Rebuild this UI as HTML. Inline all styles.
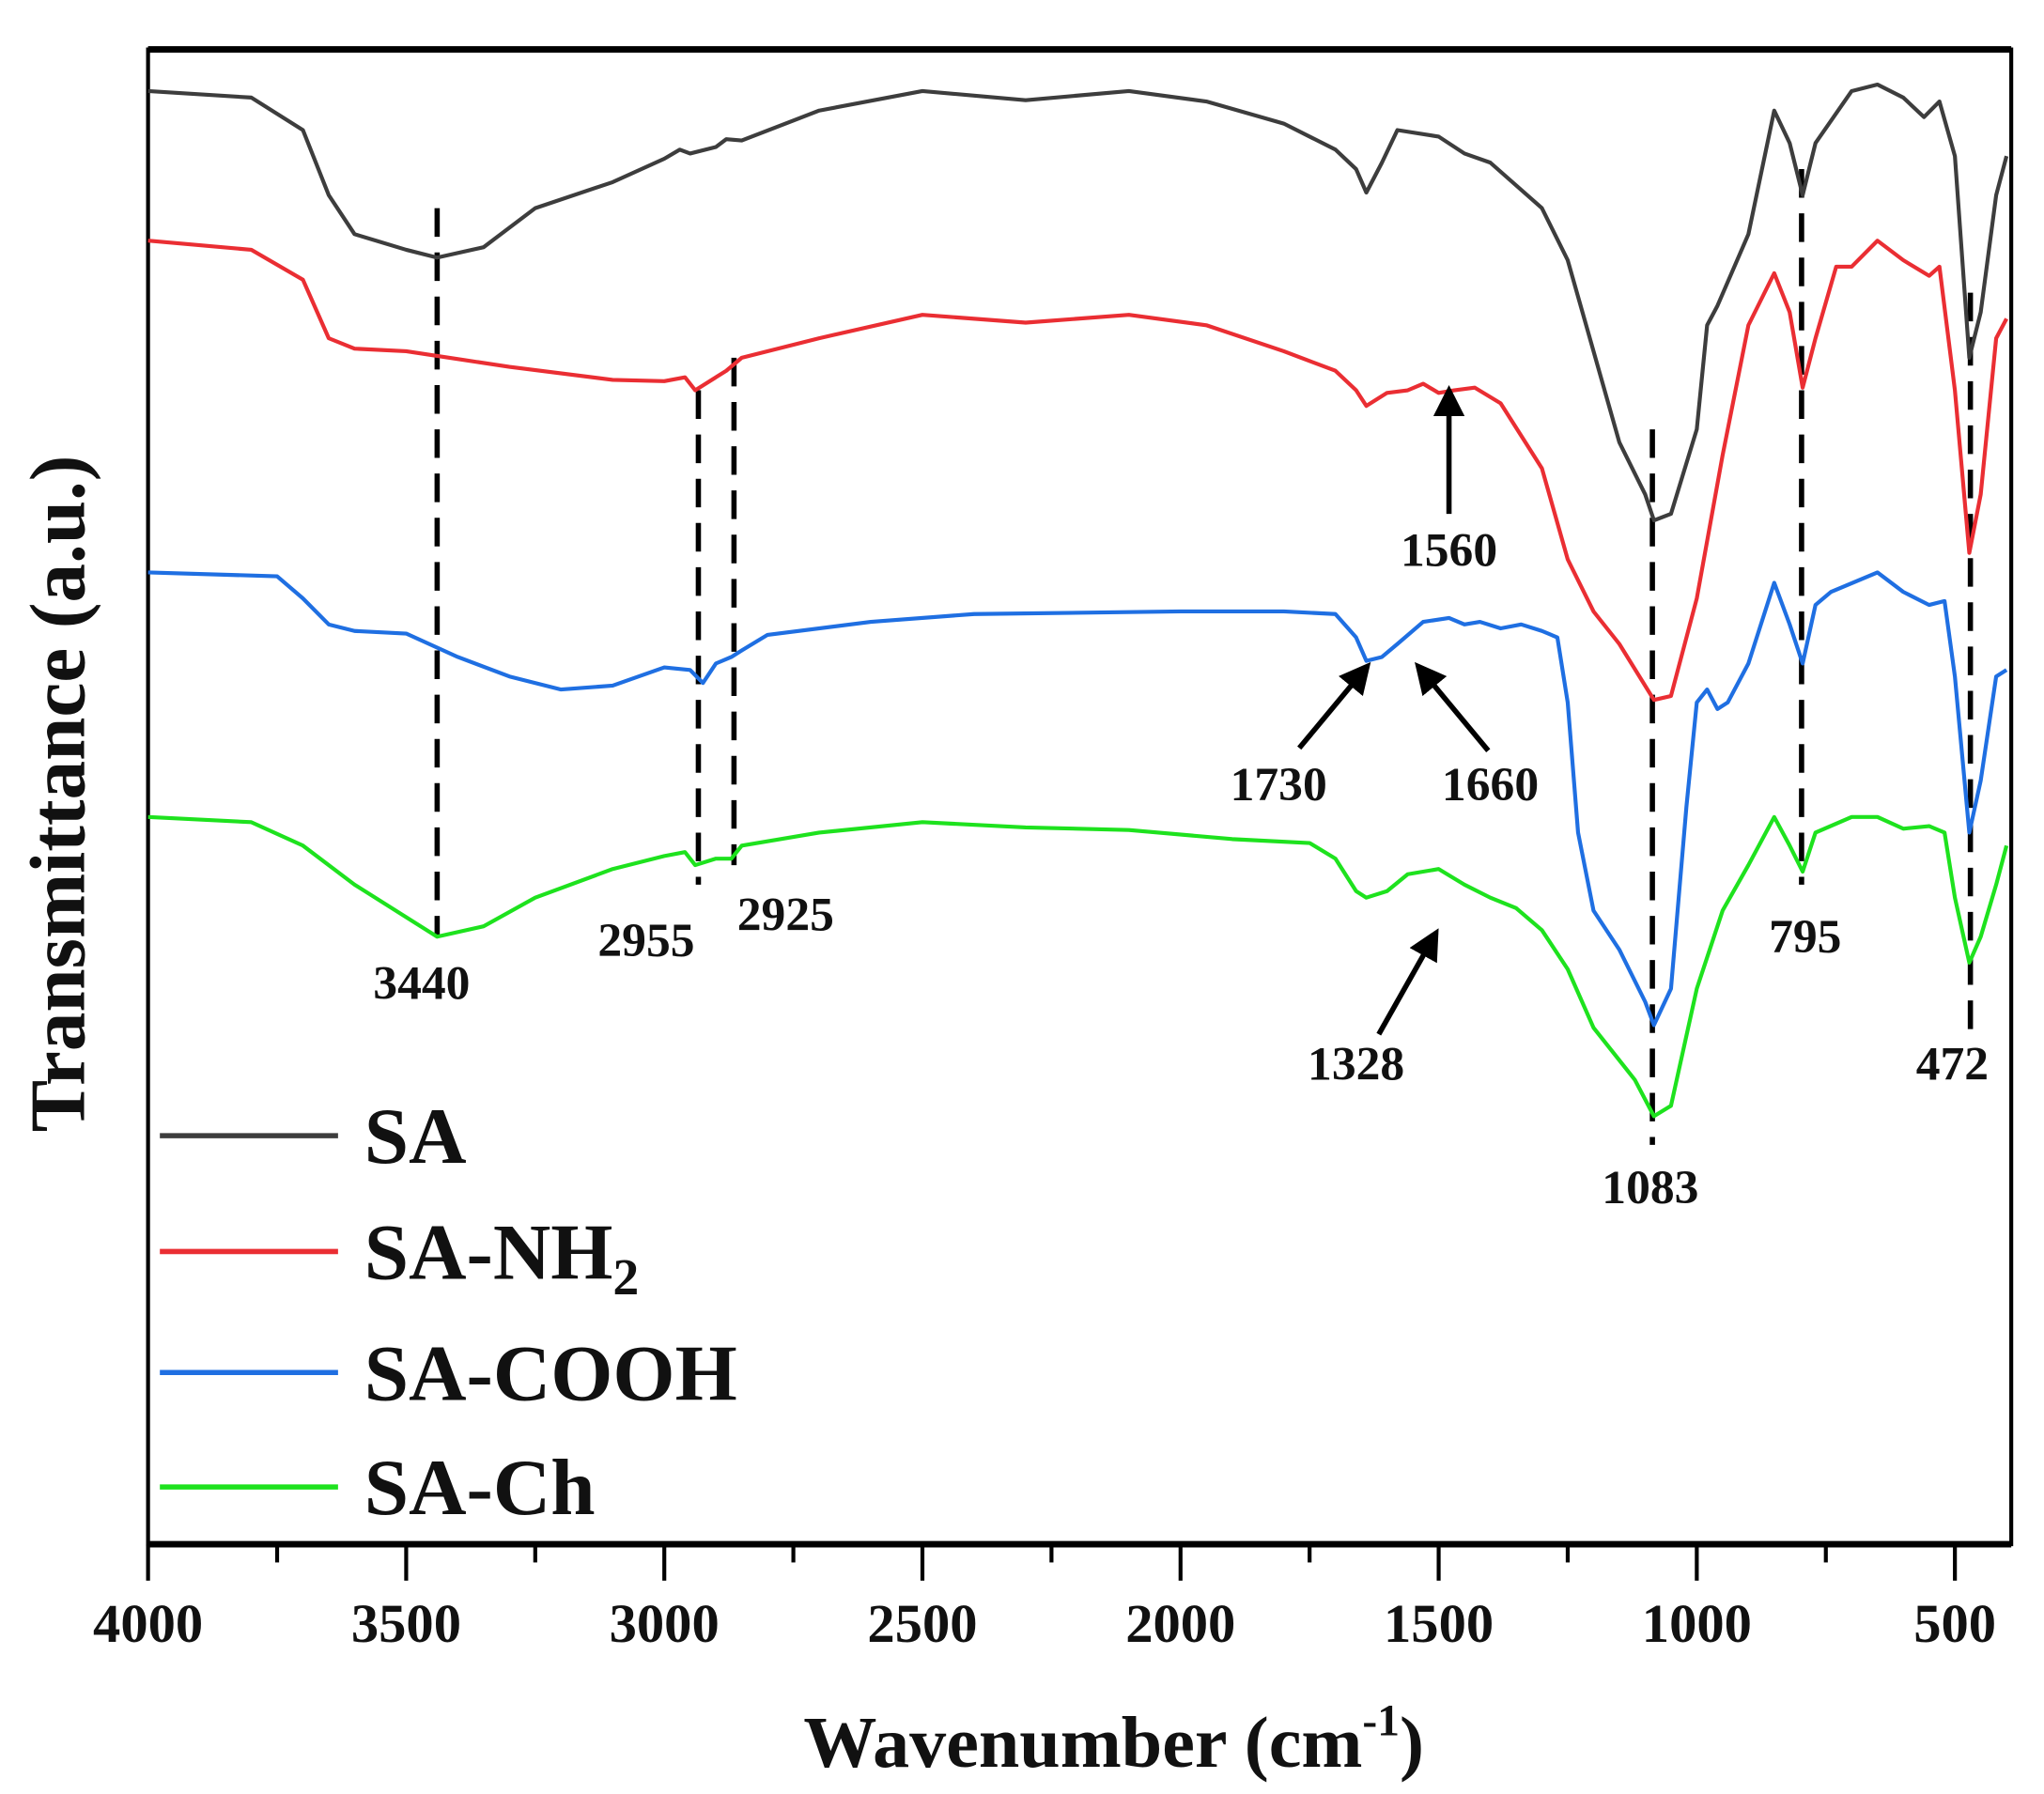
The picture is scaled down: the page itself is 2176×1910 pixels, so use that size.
<!DOCTYPE html>
<html><head><meta charset="utf-8"><style>
html,body{margin:0;padding:0;background:#fff;}
svg{display:block;}
text{font-family:"Liberation Serif",serif;font-weight:bold;fill:#111;}
</style></head><body>
<svg id="chart" width="2176" height="1910" viewBox="0 0 1560 1379" preserveAspectRatio="none" xmlns="http://www.w3.org/2000/svg">
<g id="marks"></g>
</svg>
<script>
// ---- data ----
const wnSA=[4000,3800,3700,3650,3600,3500,3440,3350,3250,3100,3000,2970,2950,2900,2880,2850,2700,2500,2300,2100,1950,1800,1700,1660,1640,1610,1580,1500,1450,1400,1300,1250,1200,1150,1100,1083,1050,1000,980,960,900,850,820,795,770,700,650,600,560,530,500,472,450,420,400];
const tSA=[113,112.5,110,105,102,100.8,100.2,101,104,106,107.8,108.5,108.2,108.7,109.3,109.2,111.5,113,112.3,113,112.2,110.5,108.5,107,105.2,107.5,110,109.5,108.2,107.5,104,100,93,86,82,80,80.5,87,95,96.5,102,111.5,109,105,109,113,113.5,112.5,111,112.2,108,92.5,96,105,108];
const wnNH2=[4000,3800,3700,3650,3600,3500,3300,3100,3000,2960,2940,2900,2880,2850,2700,2500,2300,2100,1950,1800,1700,1660,1640,1600,1560,1530,1500,1470,1430,1380,1300,1250,1200,1150,1083,1050,1000,950,900,850,820,795,770,730,700,650,600,550,530,500,472,450,420,400];
const tNH2=[101.5,100.8,98.5,94,93.2,93,91.8,90.8,90.7,91,90,91,91.5,92.5,94,95.8,95.2,95.8,95,93,91.5,90,88.8,89.8,90,90.5,89.8,90,90.2,89,84,77,73,70.5,66.2,66.5,74,85,95,99,96,90.2,94,99.5,99.5,101.5,100,98.8,99.5,90,77.5,82,94,95.5];
const wnCOOH=[4000,3750,3700,3650,3600,3500,3400,3300,3200,3100,3000,2950,2925,2900,2870,2850,2800,2600,2400,2000,1800,1700,1660,1640,1610,1580,1530,1480,1450,1420,1380,1340,1300,1270,1250,1230,1200,1150,1100,1083,1050,1020,1000,980,960,940,900,850,820,795,770,740,650,600,550,520,500,472,450,420,400];
const tCOOH=[76,75.7,74,72,71.5,71.3,69.5,68,67,67.3,68.7,68.5,67.5,69,69.5,70,71.2,72.2,72.8,73,73,72.8,71,69.2,69.5,70.5,72.2,72.5,72,72.2,71.7,72,71.5,71,66,56,50,47,43,41.2,44,58,66,67,65.5,66,69,75.2,72,69,73.5,74.5,76,74.5,73.5,73.8,68,56,60,68,68.5];
const wnCh=[4000,3800,3700,3600,3500,3440,3350,3250,3100,3000,2960,2940,2900,2870,2850,2700,2500,2300,2100,1900,1750,1700,1660,1640,1600,1560,1500,1450,1400,1350,1300,1250,1200,1150,1120,1083,1050,1000,950,900,850,820,795,770,700,650,600,550,520,500,472,450,420,400];
const tCh=[57.2,56.8,55,52,49.5,48,48.8,51,53.2,54.2,54.5,53.5,54,54,55,56,56.8,56.4,56.2,55.5,55.2,54,51.5,51,51.5,52.8,53.2,52,51,50.2,48.5,45.5,41,38.5,37,34.2,35,44,50,53.5,57.2,55,53,56,57.2,57.2,56.3,56.5,56,51,46,48,52,55];
const seriesNames=["SA","SA-NH2","SA-COOH","SA-Ch"];
const xTicks=[4000,3500,3000,2500,2000,1500,1000,500];
const peakWn=[3440,2934,2865,1086,797,470];
const peakTop=[104,90,92.5,87,107,97.5];
const peakBot=[48,52,53.5,32,52,40.2];
const labels=[["3440",3470,43.2],["2955",3035,46.5],["2925",2765,48.5],["1560",1480,76.5],["1730",1810,58.5],["1660",1400,58.5],["1328",1660,37],["1083",1090,27.5],["795",790,46.8],["472",505,37]];
const arrows=[[1480,80.5,1480,90],[1770,62.5,1638,68.8],[1404,62.3,1540,68.8],[1616,40.5,1505,48.3]];
// ---- axes ----
const X0=113,X1=1535,Y0=38,Y1=1187;
function x(w){return X0+(4000-w)*197/500;}
function y(t){return 1200-10*t;}
const NS="http://www.w3.org/2000/svg";
const g=document.getElementById('marks');
function mk(tag,attrs,parent){const e=document.createElementNS(NS,tag);for(const k in attrs)e.setAttribute(k,attrs[k]);(parent||g).appendChild(e);return e;}
const fr=mk('rect',{x:X0,y:Y0,width:X1-X0,height:Y1-Y0,fill:'none',stroke:'#000','stroke-width':3});


mk('line',{x1:X0,y1:Y0,x2:X1,y2:Y0,stroke:'#000','stroke-width':5});
mk('line',{x1:X0,y1:Y1,x2:X1,y2:Y1,stroke:'#000','stroke-width':5});
for(let w=4000;w>=400;w-=250){
  const major=(w%500===0);
  const t=mk('line',{x1:x(w),y1:Y1,x2:x(w),y2:Y1+(major?28:14),stroke:'#000','stroke-width':3});
  
  
}
xTicks.forEach(w=>{
  const t=mk('text',{x:x(w),y:1262,'text-anchor':'middle','font-size':42});
  t.textContent=w;
  
  
});
peakWn.forEach((w,i)=>{
  const l=mk('line',{x1:x(w),y1:y(peakTop[i]),x2:x(w),y2:y(peakBot[i]),stroke:'#000','stroke-width':4,'stroke-dasharray':'22 12'});
  
  
});
const colors=["#3d3d3d","#ea2e33","#1f6fe2","#1ee21e"];
const W=[wnSA,wnNH2,wnCOOH,wnCh],T=[tSA,tNH2,tCOOH,tCh];
W.forEach((wn,i)=>{
  const pts=wn.map((w,j)=>x(w).toFixed(1)+','+y(T[i][j]).toFixed(1)).join(' ');
  const p=mk('polyline',{points:pts,fill:'none',stroke:colors[i],'stroke-width':3,'stroke-linejoin':'round'});
  
  
});
mk('defs',{}).innerHTML='<marker id="ah" markerWidth="6" markerHeight="6" refX="5" refY="3" orient="auto"><path d="M0,0 L6,3 L0,6 z" fill="#000"/></marker>';
arrows.forEach(a=>{
  const l=mk('line',{x1:x(a[0]),y1:y(a[1]),x2:x(a[2]),y2:y(a[3]),stroke:'#000','stroke-width':4,'marker-end':'url(#ah)'});
  
  
});
labels.forEach(L=>{
  const t=mk('text',{x:x(L[1]),y:y(L[2]),'text-anchor':'middle','font-size':37});
  t.textContent=L[0];
  
  
});
const legY=[873,962,1055,1143];
const legTxt=['SA','SA-NH<tspan font-size="40" dy="12">2</tspan>','SA-COOH','SA-Ch'];
legY.forEach((ly,i)=>{
  const l=mk('line',{x1:122,y1:ly,x2:258,y2:ly,stroke:colors[i],'stroke-width':4});
  
  
  const t=mk('text',{x:278,y:ly+21,'font-size':61});
  t.innerHTML=legTxt[i];
  
  
});
const xt=mk('text',{x:850,y:1358,'text-anchor':'middle','font-size':56});
xt.innerHTML='Wavenumber (cm<tspan font-size="34" dy="-24">-1</tspan><tspan dy="24">)</tspan>';


const yt=mk('text',{x:0,y:0,'text-anchor':'middle','font-size':60,transform:'translate(64,610) rotate(-90)'});
yt.textContent='Transmittance (a.u.)';


</script>
</body></html>
